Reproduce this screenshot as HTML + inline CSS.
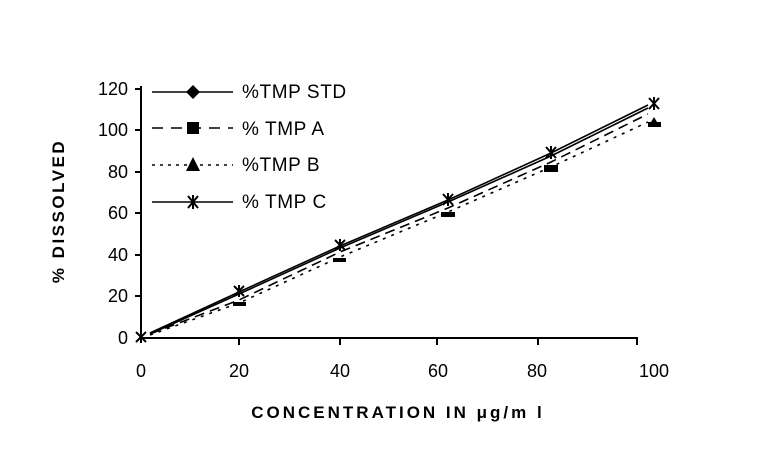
<!DOCTYPE html>
<html><head><style>body{margin:0;background:#fff}svg{display:block}text{font-family:"Liberation Sans",Arial,sans-serif;fill:#000}</style></head><body>
<svg width="762" height="472" viewBox="0 0 762 472">
<g stroke="#000" stroke-width="2" fill="none">
<line x1="141" y1="86" x2="141" y2="339"/>
<line x1="140" y1="338" x2="638" y2="338"/>
<line x1="135" y1="89" x2="141" y2="89"/><line x1="135" y1="130" x2="141" y2="130"/><line x1="135" y1="172" x2="141" y2="172"/><line x1="135" y1="213" x2="141" y2="213"/><line x1="135" y1="255" x2="141" y2="255"/><line x1="135" y1="296" x2="141" y2="296"/>
<line x1="239" y1="338" x2="239" y2="345"/><line x1="340" y1="338" x2="340" y2="345"/><line x1="437" y1="338" x2="437" y2="345"/><line x1="538" y1="338" x2="538" y2="345"/><line x1="637" y1="338" x2="637" y2="345"/>
</g>
<g font-size="18" text-anchor="end">
<text x="128" y="95">120</text><text x="128" y="136">100</text><text x="128" y="178">80</text><text x="128" y="219">60</text><text x="128" y="261">40</text><text x="128" y="302">20</text><text x="128" y="344">0</text>
</g>
<g font-size="18" text-anchor="middle">
<text x="141" y="377">0</text><text x="239" y="377">20</text><text x="340" y="377">40</text><text x="438" y="377">60</text><text x="537" y="377">80</text><text x="654" y="377">100</text>
</g>
<text x="398" y="418" font-size="17" font-weight="bold" text-anchor="middle" letter-spacing="3">CONCENTRATION IN  μg/m l</text>
<text transform="translate(64,211) rotate(-90)" font-size="17" font-weight="bold" text-anchor="middle" letter-spacing="2.5">% DISSOLVED</text>
<g stroke="#000" stroke-width="1.6" fill="none">
<polyline points="150,334 239,294 340,248 448,202 551,156 648,108"/>
<polyline points="150,334 239,300 340,252 448,208 551,162 648,114" stroke-dasharray="10,6"/>
<polyline points="150,335 239,303 340,257 448,212 551,167 648,122" stroke-dasharray="3,6"/>
<polyline points="150,333 239,292 340,246 448,200 551,153 648,105"/>
</g>
<g fill="#000">
<rect x="233" y="302" width="13" height="4"/><rect x="333" y="258" width="13" height="4"/><rect x="441" y="212" width="14" height="5"/><rect x="544" y="165" width="14" height="7"/>
<polygon points="654,117 660,127 648,127"/><rect x="648" y="122" width="13" height="5"/>
</g>
<g stroke="#000" stroke-width="2" fill="none">
<path d="M136,332l10,10M146,332l-10,10M141,331v12"/>
<path d="M234,286l10,10M244,286l-10,10M239,285v12"/>
<path d="M335,240l10,10M345,240l-10,10M340,239v12"/>
<path d="M443,194l10,11M453,194l-10,11M448,193v13"/>
<path d="M546,147l10,11M556,147l-10,11M551,146v13"/>
<path d="M649,98l10,11M659,98l-10,11M654,97v13"/>
</g>
<g stroke="#000" stroke-width="1.6" fill="none">
<line x1="152" y1="92" x2="233" y2="92"/>
<line x1="152" y1="128" x2="233" y2="128" stroke-dasharray="11,8"/>
<line x1="152" y1="165" x2="233" y2="165" stroke-dasharray="3,5"/>
<line x1="152" y1="202" x2="233" y2="202"/>
</g>
<polygon points="193,85 200,92 193,99 186,92" fill="#000"/>
<rect x="187" y="122" width="12" height="12" fill="#000"/>
<polygon points="193,157 200,171 186,171" fill="#000"/>
<path d="M188,196l10,12M198,196l-10,12M193,195v14" stroke="#000" stroke-width="2"/>
<g font-size="19" letter-spacing="0.6">
<text x="242" y="98">%TMP STD</text><text x="242" y="135">%  TMP A</text><text x="242" y="171">%TMP B</text><text x="242" y="208">%  TMP C</text>
</g>
</svg>
</body></html>
